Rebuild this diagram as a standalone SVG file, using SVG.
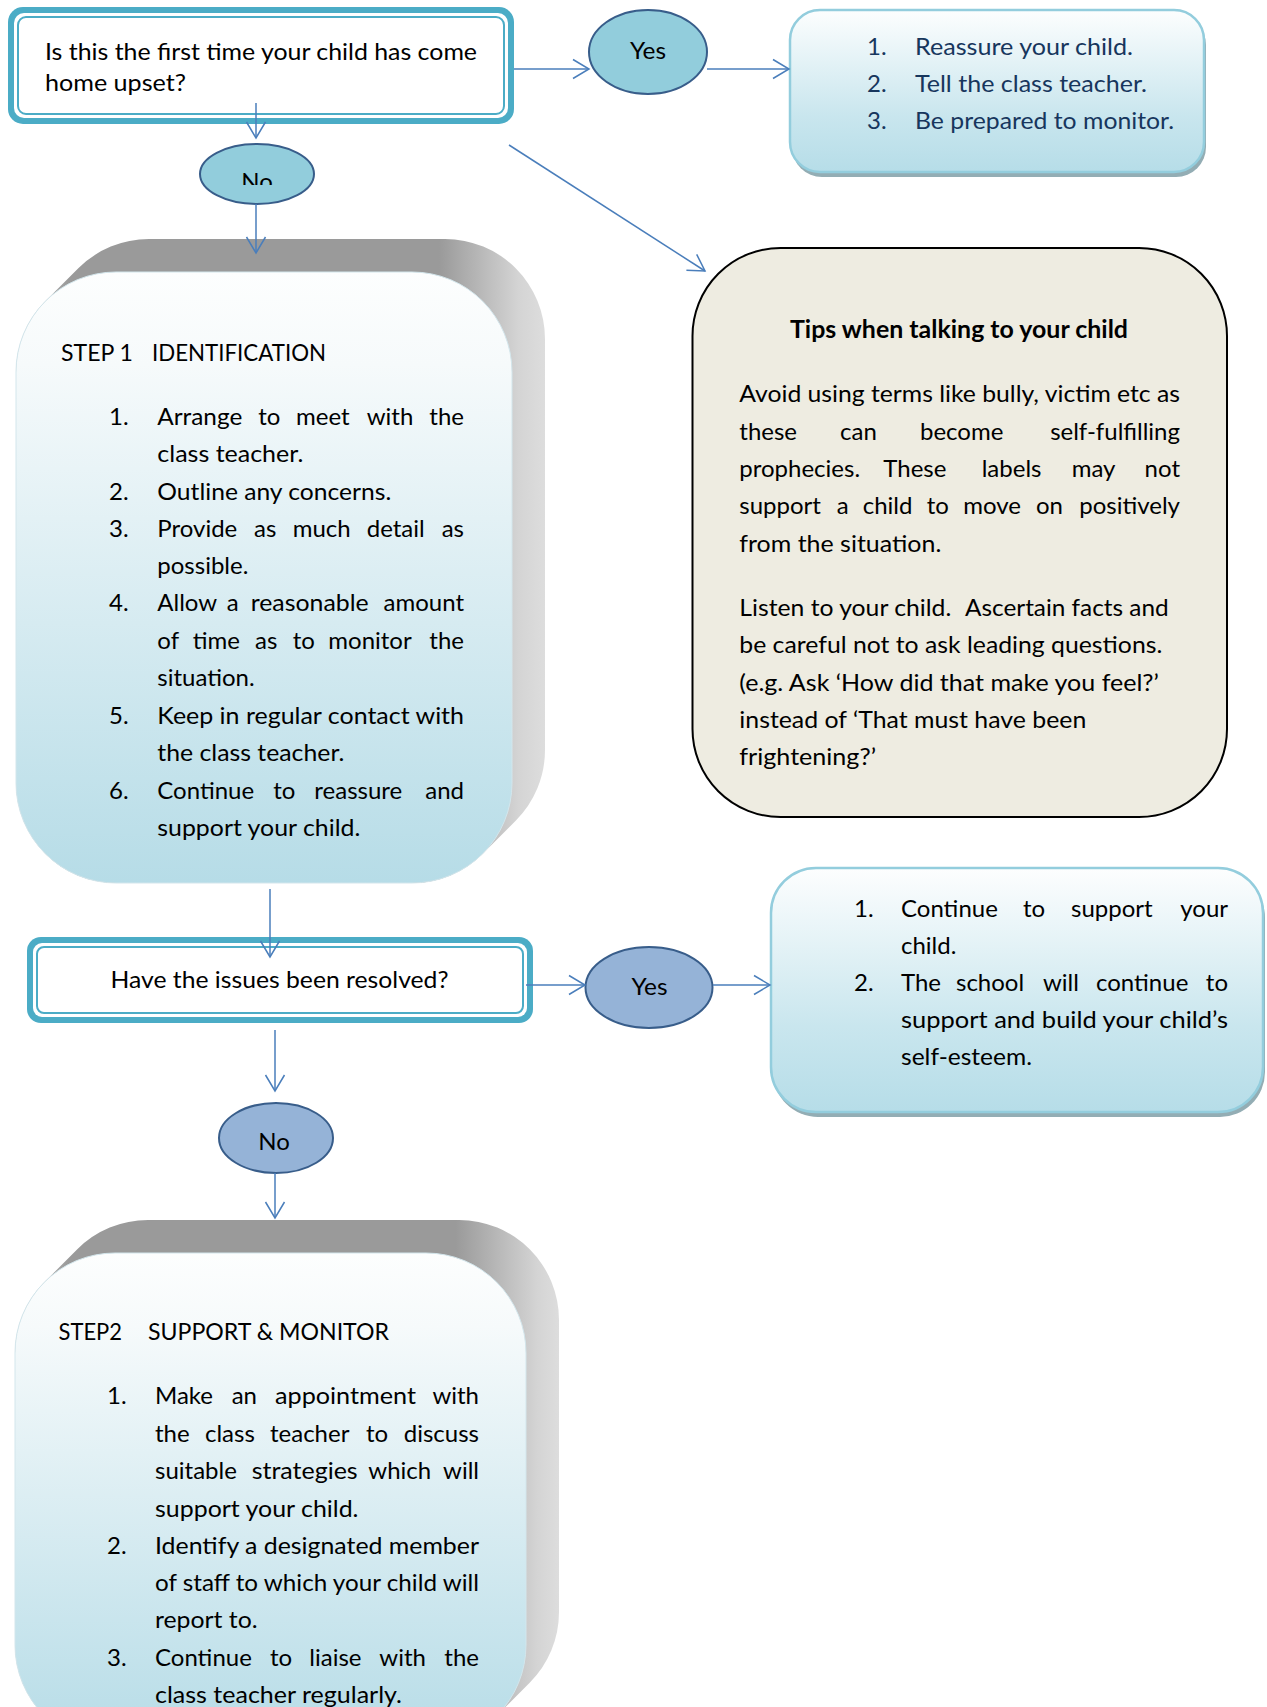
<svg xmlns="http://www.w3.org/2000/svg" width="1267" height="1707" viewBox="0 0 1267 1707">
<style>
.t{font-family:Lato,"Open Sans",sans-serif;font-size:24px;fill:#000}
.e{text-anchor:end}
.m{text-anchor:middle}
.nv{fill:#17365d}
.b{font-weight:bold}
.conn{stroke:#4a7ebb;stroke-width:1.5;fill:none;marker-end:url(#arr)}
.ell1{fill:#92cddc;stroke:#385d8a;stroke-width:2}
.ell2{fill:#95b3d7;stroke:#385d8a;stroke-width:2}
.teal{fill:#4bacc6}
.inner{fill:#fff;stroke:#4bacc6;stroke-width:2}
.lbox{fill:url(#gBox);stroke:#93cddd;stroke-width:2.5}
.shadow{fill:#93adb4}
.face{stroke:#d3e6ec;stroke-width:1}
</style>
<defs>
<marker id="arr" markerUnits="userSpaceOnUse" markerWidth="20" markerHeight="24" viewBox="-18 -12 20 24" refX="0" refY="0" orient="auto">
<path d="M-16,-9.5 L0,0 L-16,9.5" fill="none" stroke="#4a7ebb" stroke-width="1.5"/>
</marker>
<linearGradient id="gBox" x1="0" y1="0" x2="0" y2="1">
<stop offset="0" stop-color="#fdfefe"/><stop offset="0.65" stop-color="#c9e6ee"/><stop offset="1" stop-color="#b6dde8"/>
</linearGradient>
<linearGradient id="gFace" x1="0" y1="0" x2="0" y2="1">
<stop offset="0" stop-color="#fdfefe"/><stop offset="0.15" stop-color="#f6fafb"/><stop offset="1" stop-color="#b6dce7"/>
</linearGradient>
<linearGradient id="gSide1" gradientUnits="userSpaceOnUse" x1="16" y1="0" x2="545" y2="0">
<stop offset="0" stop-color="#c4c4c4"/><stop offset="0.1" stop-color="#9a9a9a"/><stop offset="0.8" stop-color="#9a9a9a"/><stop offset="0.95" stop-color="#d4d4d4"/><stop offset="1" stop-color="#dddddd"/>
</linearGradient>
<linearGradient id="gSide2" gradientUnits="userSpaceOnUse" x1="15" y1="0" x2="559" y2="0">
<stop offset="0" stop-color="#c4c4c4"/><stop offset="0.1" stop-color="#9a9a9a"/><stop offset="0.81" stop-color="#9a9a9a"/><stop offset="0.96" stop-color="#d4d4d4"/><stop offset="1" stop-color="#dddddd"/>
</linearGradient>
<clipPath id="clipNo"><rect x="195" y="140" width="125" height="45"/></clipPath>
</defs>
<rect width="1267" height="1707" fill="#fff"/>

<g id="node-q1">
<rect class="teal" x="8" y="7" width="506" height="117" rx="15"/>
<rect x="14" y="13" width="494" height="105" rx="10" fill="#fff"/>
<rect class="inner" x="18" y="17" width="486" height="97" rx="8"/>
<text class="t" x="45" y="60" textLength="432" lengthAdjust="spacingAndGlyphs">Is this the first time your child has come</text>
<text class="t" x="45" y="91" textLength="141" lengthAdjust="spacingAndGlyphs">home upset?</text>
</g>

<g id="node-yes1">
<ellipse class="ell1" cx="648" cy="52" rx="59" ry="42"/>
<text class="t m" x="648" y="59" textLength="36" lengthAdjust="spacingAndGlyphs">Yes</text>
</g>

<g id="node-actions1">
<rect class="shadow" x="792" y="15" width="414" height="162" rx="30"/>
<rect class="lbox" x="790" y="10" width="414" height="162" rx="30"/>
<text class="t nv" x="867" y="55">1.</text>
<text class="t nv" x="915" y="55" textLength="218" lengthAdjust="spacingAndGlyphs">Reassure your child.</text>
<text class="t nv" x="867" y="92">2.</text>
<text class="t nv" x="915" y="92" textLength="232" lengthAdjust="spacingAndGlyphs">Tell the class teacher.</text>
<text class="t nv" x="867" y="129">3.</text>
<text class="t nv" x="915" y="129" textLength="259" lengthAdjust="spacingAndGlyphs">Be prepared to monitor.</text>
</g>

<g id="node-no1">
<ellipse class="ell1" cx="257" cy="174" rx="57" ry="30"/>
<text class="t m" x="257" y="190" clip-path="url(#clipNo)">No</text>
</g>

<g id="node-step1">
<path fill="url(#gSide1)" d="M45.29,301.29 L78.29,268.29 A100,100 0 0 1 149,239 L445,239 A100,100 0 0 1 545,339 L545,750 A100,100 0 0 1 515.71,820.71 L482.71,853.71 A100,100 0 0 1 412,883 L116,883 A100,100 0 0 1 16,783 L16,372 A100,100 0 0 1 45.29,301.29 Z"/>
<rect class="face" fill="url(#gFace)" x="16" y="272" width="496" height="611" rx="100"/>
<text class="t" x="61" y="361" textLength="72" lengthAdjust="spacingAndGlyphs">STEP 1</text>
<text class="t" x="152" y="361" textLength="174" lengthAdjust="spacingAndGlyphs">IDENTIFICATION</text>
<text class="t" y="425"><tspan x="109">1.</tspan><tspan x="157.3" textLength="85" lengthAdjust="spacingAndGlyphs">Arrange</tspan><tspan x="258.3">to</tspan><tspan x="296">meet</tspan><tspan x="366.7">with</tspan></text><text class="t e" x="464" y="425">the</text>
<text class="t" x="157.3" y="462" textLength="146" lengthAdjust="spacingAndGlyphs">class teacher.</text>
<text class="t" x="109" y="499.5">2.</text><text class="t" x="157.3" y="499.5" textLength="234" lengthAdjust="spacingAndGlyphs">Outline any concerns.</text>
<text class="t" y="537"><tspan x="109">3.</tspan><tspan x="157.3">Provide</tspan><tspan x="254">as</tspan><tspan x="292.7">much</tspan><tspan x="366.7">detail</tspan></text><text class="t e" x="464" y="537">as</text>
<text class="t" x="157.3" y="574">possible.</text>
<text class="t" y="611"><tspan x="109">4.</tspan><tspan x="157.3">Allow</tspan><tspan x="226.7">a</tspan><tspan x="250.7" textLength="118" lengthAdjust="spacingAndGlyphs">reasonable</tspan></text><text class="t e" x="464" y="611">amount</text>
<text class="t" y="649"><tspan x="157.3">of</tspan><tspan x="192.7">time</tspan><tspan x="255">as</tspan><tspan x="292.7">to</tspan><tspan x="328.3">monitor</tspan></text><text class="t e" x="464" y="649">the</text>
<text class="t" x="157.3" y="686">situation.</text>
<text class="t" x="109" y="724">5.</text><text class="t" x="157.3" y="724" textLength="306.7" lengthAdjust="spacingAndGlyphs">Keep in regular contact with</text>
<text class="t" x="157.3" y="761" textLength="187" lengthAdjust="spacingAndGlyphs">the class teacher.</text>
<text class="t" y="799"><tspan x="109">6.</tspan><tspan x="157.3">Continue</tspan><tspan x="273.3">to</tspan><tspan x="314.3">reassure</tspan></text><text class="t e" x="464" y="799">and</text>
<text class="t" x="157.3" y="836" textLength="203" lengthAdjust="spacingAndGlyphs">support your child.</text>
</g>

<g id="node-tips">
<rect x="692.5" y="248" width="534.5" height="569" rx="88" fill="#eeece1" stroke="#000" stroke-width="2"/>
<text class="t b m" x="959" y="338" textLength="338" lengthAdjust="spacingAndGlyphs">Tips when talking to your child</text>
<text class="t" x="739.3" y="402" textLength="440.7" lengthAdjust="spacingAndGlyphs">Avoid using terms like bully, victim etc as</text>
<text class="t" y="439.5"><tspan x="739.3">these</tspan><tspan x="840">can</tspan><tspan x="920">become</tspan></text><text class="t e" x="1180" y="439.5">self-fulfilling</text>
<text class="t" y="477"><tspan x="739.3">prophecies.</tspan><tspan x="883.3">These</tspan><tspan x="981.7">labels</tspan><tspan x="1071.7">may</tspan></text><text class="t e" x="1180" y="477">not</text>
<text class="t" y="514"><tspan x="739.3">support</tspan><tspan x="836.7">a</tspan><tspan x="862.7">child</tspan><tspan x="926.7">to</tspan><tspan x="963.3">move</tspan><tspan x="1036">on</tspan></text><text class="t e" x="1180" y="514">positively</text>
<text class="t" x="739.3" y="551.5" textLength="202" lengthAdjust="spacingAndGlyphs">from the situation.</text>
<text class="t" x="739.3" y="615.5" textLength="212" lengthAdjust="spacingAndGlyphs">Listen to your child.</text>
<text class="t" x="965" y="615.5" textLength="203.6" lengthAdjust="spacingAndGlyphs">Ascertain facts and</text>
<text class="t" x="739.3" y="653" textLength="423" lengthAdjust="spacingAndGlyphs">be careful not to ask leading questions.</text>
<text class="t" x="739.3" y="690.6" textLength="419.6" lengthAdjust="spacingAndGlyphs">(e.g. Ask ‘How did that make you feel?’</text>
<text class="t" x="739.3" y="727.6" textLength="347" lengthAdjust="spacingAndGlyphs">instead of ‘That must have been</text>
<text class="t" x="739.3" y="765" textLength="136.7" lengthAdjust="spacingAndGlyphs">frightening?’</text>
</g>

<g id="node-q2">
<rect class="teal" x="27" y="937" width="506" height="86" rx="14"/>
<rect x="33" y="943" width="494" height="74" rx="9" fill="#fff"/>
<rect class="inner" x="37" y="947" width="486" height="66" rx="7"/>
<text class="t m" x="279.5" y="988" textLength="338" lengthAdjust="spacingAndGlyphs">Have the issues been resolved?</text>
</g>

<g id="node-yes2">
<ellipse class="ell2" cx="649" cy="987.5" rx="63.5" ry="40.5"/>
<text class="t m" x="649.5" y="995" textLength="36" lengthAdjust="spacingAndGlyphs">Yes</text>
</g>

<g id="node-actions2">
<rect class="shadow" x="773" y="873" width="492" height="244" rx="45"/>
<rect class="lbox" x="771" y="868" width="492" height="244" rx="45"/>
<text class="t" y="917"><tspan x="854">1.</tspan><tspan x="901">Continue</tspan><tspan x="1023">to</tspan><tspan x="1071">support</tspan></text><text class="t e" x="1228" y="917">your</text>
<text class="t" x="901" y="954">child.</text>
<text class="t" y="991"><tspan x="854">2.</tspan><tspan x="901">The</tspan><tspan x="956">school</tspan><tspan x="1043">will</tspan><tspan x="1096">continue</tspan></text><text class="t e" x="1228" y="991">to</text>
<text class="t" x="901" y="1028" textLength="327" lengthAdjust="spacingAndGlyphs">support and build your child’s</text>
<text class="t" x="901" y="1065" textLength="131" lengthAdjust="spacingAndGlyphs">self-esteem.</text>
</g>

<g id="node-no2">
<ellipse class="ell2" cx="276" cy="1138" rx="57" ry="35"/>
<text class="t m" x="274" y="1150">No</text>
</g>

<g id="node-step2">
<path fill="url(#gSide2)" d="M44.29,1282.29 L77.29,1249.29 A100,100 0 0 1 148,1220 L459,1220 A100,100 0 0 1 559,1320 L559,1612 A100,100 0 0 1 529.71,1682.71 L496.71,1715.71 A100,100 0 0 1 426,1745 L115,1745 A100,100 0 0 1 15,1645 L15,1353 A100,100 0 0 1 44.29,1282.29 Z"/>
<rect class="face" fill="url(#gFace)" x="15" y="1253" width="511" height="492" rx="100"/>
<text class="t" x="58.5" y="1340" textLength="63.5" lengthAdjust="spacingAndGlyphs">STEP2</text>
<text class="t" x="148" y="1340" textLength="241" lengthAdjust="spacingAndGlyphs">SUPPORT &amp; MONITOR</text>
<text class="t" y="1404"><tspan x="107">1.</tspan><tspan x="155">Make</tspan><tspan x="231.7">an</tspan><tspan x="275" textLength="141" lengthAdjust="spacingAndGlyphs">appointment</tspan></text><text class="t e" x="479" y="1404">with</text>
<text class="t" y="1442"><tspan x="155">the</tspan><tspan x="205">class</tspan><tspan x="270">teacher</tspan><tspan x="366">to</tspan></text><text class="t e" x="479" y="1442">discuss</text>
<text class="t" y="1479"><tspan x="155">suitable</tspan><tspan x="251.7" textLength="106" lengthAdjust="spacingAndGlyphs">strategies</tspan><tspan x="368.3">which</tspan></text><text class="t e" x="479" y="1479">will</text>
<text class="t" x="155" y="1517" textLength="203.5" lengthAdjust="spacingAndGlyphs">support your child.</text>
<text class="t" x="107" y="1554">2.</text><text class="t" x="155" y="1554" textLength="324" lengthAdjust="spacingAndGlyphs">Identify a designated member</text>
<text class="t" x="155" y="1591" textLength="324" lengthAdjust="spacingAndGlyphs">of staff to which your child will</text>
<text class="t" x="155" y="1628" textLength="102.6" lengthAdjust="spacingAndGlyphs">report to.</text>
<text class="t" y="1666"><tspan x="107">3.</tspan><tspan x="155">Continue</tspan><tspan x="270">to</tspan><tspan x="309.3">liaise</tspan><tspan x="379.3">with</tspan></text><text class="t e" x="479" y="1666">the</text>
<text class="t" x="155" y="1703" textLength="247" lengthAdjust="spacingAndGlyphs">class teacher regularly.</text>
</g>

<g id="connectors">
<line class="conn" x1="514" y1="69" x2="589" y2="69"/>
<line class="conn" x1="707" y1="69" x2="789" y2="69"/>
<line class="conn" x1="256" y1="103" x2="256" y2="138"/>
<line class="conn" x1="256" y1="204" x2="256" y2="253"/>
<line class="conn" x1="509" y1="145" x2="705" y2="271"/>
<line class="conn" x1="270" y1="889" x2="270" y2="957"/>
<line class="conn" x1="526" y1="985" x2="585" y2="985"/>
<line class="conn" x1="713" y1="985" x2="770" y2="985"/>
<line class="conn" x1="275" y1="1030" x2="275" y2="1091"/>
<line class="conn" x1="275" y1="1173" x2="275" y2="1218"/>
</g>
</svg>
